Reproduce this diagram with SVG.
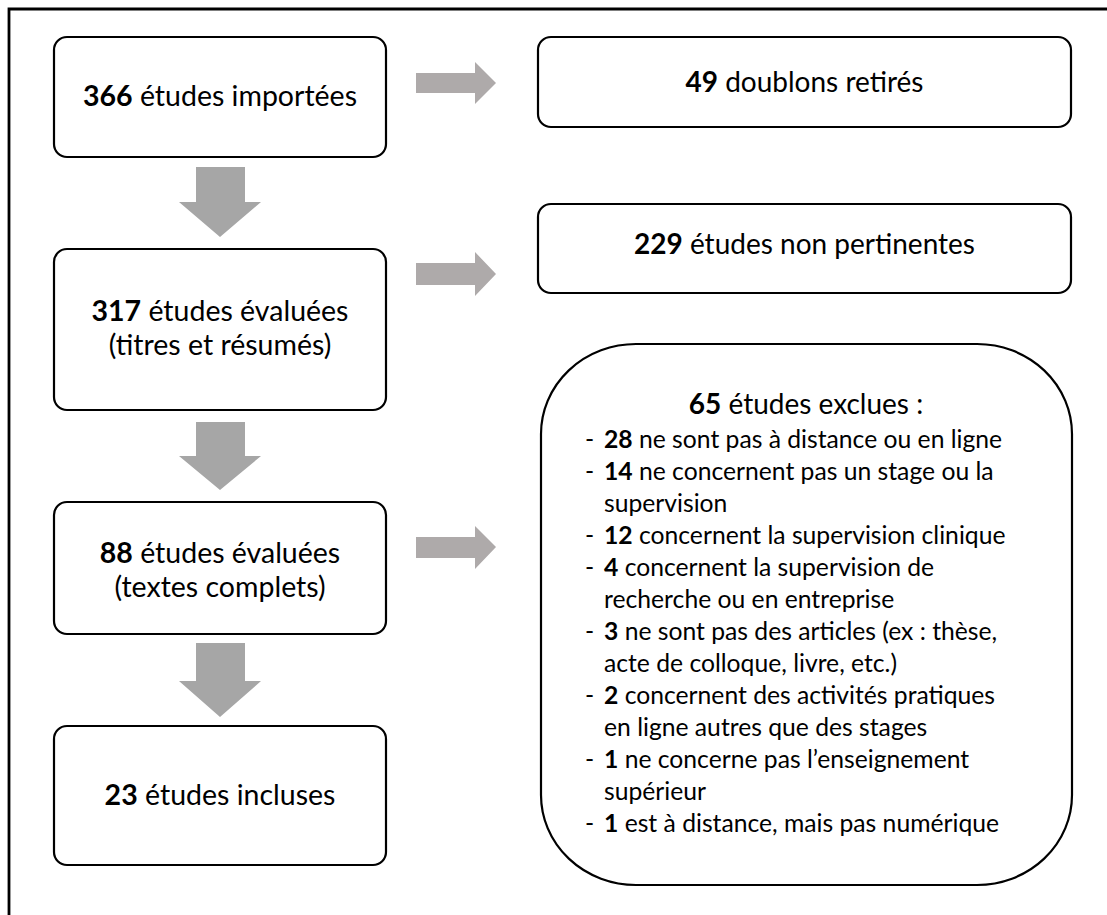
<svg xmlns="http://www.w3.org/2000/svg" width="1107" height="915" viewBox="0 0 1107 915">
<style>
.box{fill:#fff;stroke:#000;stroke-width:2.2}
.t{font-family:Lato,"Liberation Sans",sans-serif;font-size:28.5px;fill:#000}
.h{font-size:28px}
.l{font-family:Lato,"Liberation Sans",sans-serif;font-size:24.7px;fill:#000}
.b{font-weight:bold}
.ad{fill:#A6A6A6}
.ar{fill:#AEAAAA}
</style>
<rect width="1107" height="915" fill="#fff"/>
<path d="M9 915 V9 H1107" fill="none" stroke="#000" stroke-width="2.8"/>
<g id="connectors">
<polygon class="ar" points="416,73 475,73 475,62 496,83 475,104 475,93 416,93"/>
<polygon class="ar" points="416,263 475,263 475,252 496,274 475,296 475,285 416,285"/>
<polygon class="ar" points="416,537 475,537 475,526 496,547 475,569 475,558 416,558"/>
<polygon class="ad" points="196,167 245,167 245,202 261,202 220,237 179,202 196,202"/>
<polygon class="ad" points="196,422 245,422 245,456 261,456 220,490 179,456 196,456"/>
<polygon class="ad" points="196,643 245,643 245,681 261,681 220,717 179,681 196,681"/>
</g>
<g id="n1">
<rect class="box" x="54" y="37" width="332" height="120" rx="13"/>
<text class="t" x="220" y="106" text-anchor="middle"><tspan class="b">366</tspan> études importées</text>
</g>
<g id="n2">
<rect class="box" x="54" y="249" width="332" height="161" rx="13"/>
<text class="t" x="220" y="321" text-anchor="middle"><tspan class="b">317</tspan> études évaluées</text>
<text class="t" x="220" y="355" text-anchor="middle">(titres et résumés)</text>
</g>
<g id="n3">
<rect class="box" x="54" y="502" width="332" height="132" rx="13"/>
<text class="t" x="220" y="563" text-anchor="middle"><tspan class="b">88</tspan> études évaluées</text>
<text class="t" x="220" y="597" text-anchor="middle">(textes complets)</text>
</g>
<g id="n4">
<rect class="box" x="54" y="726" width="332" height="139" rx="13"/>
<text class="t" x="220" y="805" text-anchor="middle"><tspan class="b">23</tspan> études incluses</text>
</g>
<g id="r1">
<rect class="box" x="538" y="37" width="533" height="90" rx="13"/>
<text class="t h" x="804.5" y="92" text-anchor="middle"><tspan class="b">49</tspan> doublons retirés</text>
</g>
<g id="r2">
<rect class="box" x="538" y="204" width="533" height="89" rx="13"/>
<text class="t h" x="804.5" y="254" text-anchor="middle"><tspan class="b">229</tspan> études non pertinentes</text>
</g>
<g id="r3">
<rect class="box" x="541" y="344" width="531" height="541" rx="95" ry="90"/>
<text class="t h" x="806" y="414" text-anchor="middle"><tspan class="b">65</tspan> études exclues :</text>
<g class="l">
<text x="585" y="448">-</text><text x="604" y="448"><tspan class="b">28</tspan> ne sont pas à distance ou en ligne</text>
<text x="585" y="480">-</text><text x="604" y="480"><tspan class="b">14</tspan> ne concernent pas un stage ou la</text>
<text x="604" y="512">supervision</text>
<text x="585" y="544">-</text><text x="604" y="544"><tspan class="b">12</tspan> concernent la supervision clinique</text>
<text x="585" y="576">-</text><text x="604" y="576"><tspan class="b">4</tspan> concernent la supervision de</text>
<text x="604" y="608">recherche ou en entreprise</text>
<text x="585" y="640">-</text><text x="604" y="640"><tspan class="b">3</tspan> ne sont pas des articles (ex : thèse,</text>
<text x="604" y="672">acte de colloque, livre, etc.)</text>
<text x="585" y="704">-</text><text x="604" y="704"><tspan class="b">2</tspan> concernent des activités pratiques</text>
<text x="604" y="736">en ligne autres que des stages</text>
<text x="585" y="768">-</text><text x="604" y="768"><tspan class="b">1</tspan> ne concerne pas l’enseignement</text>
<text x="604" y="800">supérieur</text>
<text x="585" y="832">-</text><text x="604" y="832"><tspan class="b">1</tspan> est à distance, mais pas numérique</text>
</g>
</g>
</svg>
